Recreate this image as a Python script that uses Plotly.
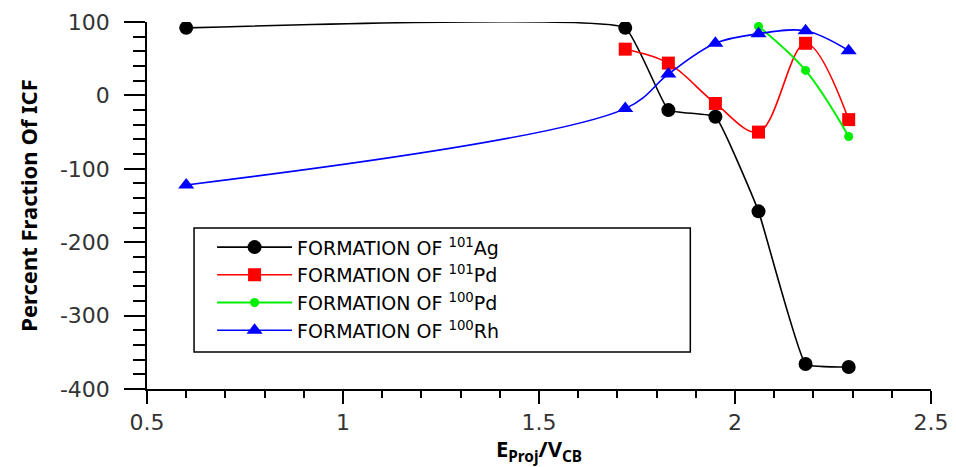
import plotly.graph_objects as go

# E_proj / V_CB values for each measured residue
x_ag101 = [0.60, 1.72, 1.83, 1.95, 2.06, 2.18, 2.29]
y_ag101 = [92, 92, -20, -29, -158, -366, -370]

x_pd101 = [1.72, 1.83, 1.95, 2.06, 2.18, 2.29]
y_pd101 = [63, 44, -11, -50, 71, -33]

x_pd100 = [2.06, 2.18, 2.29]
y_pd100 = [94, 34, -56]

x_rh100 = [0.60, 1.72, 1.83, 1.95, 2.06, 2.18, 2.29]
y_rh100 = [-122, -18, 29, 71, 84, 88, 61]

names = [
    "FORMATION OF <sup>101</sup>Ag",
    "FORMATION OF <sup>101</sup>Pd",
    "FORMATION OF <sup>100</sup>Pd",
    "FORMATION OF <sup>100</sup>Rh",
]

y_ticks = [-400, -300, -200, -100, 0, 100]
x_ticks = [0.5, 1, 1.5, 2, 2.5]

series = [
    (x_ag101, y_ag101, names[0], "#000000", "circle", 14, 1.6, 0.3),
    (x_pd101, y_pd101, names[1], "#ff0000", "square", 13, 1.6, 1.0),
    (x_pd100, y_pd100, names[2], "#00ee00", "circle", 9, 2.0, 1.0),
    (x_rh100, y_rh100, names[3], "#0000ff", "triangle-up", 14, 1.6, 1.0),
]

fig = go.Figure()
for xs, ys, name, color, symbol, msize, lw, smooth in series:
    fig.add_trace(go.Scatter(
        x=xs, y=ys, name=name, mode="lines+markers",
        line=dict(color=color, width=lw, shape="spline", smoothing=smooth),
        marker=dict(symbol=symbol, size=msize, color=color),
    ))

tick_font = dict(family="DejaVu Sans", size=22, color="#333333")
title_font = dict(family="Noto Sans", size=22, color="#000000", weight="bold")

# frame drawn around the legend entries
fig.add_shape(
    type="rect", xref="paper", yref="paper",
    x0=0.06, x1=0.693, y0=0.101, y1=0.439,
    line=dict(color="#000000", width=1.5), fillcolor="white", layer="below",
)

fig.update_layout(
    template="none",
    width=956, height=467,
    margin=dict(l=147, r=25, t=22, b=78),
    paper_bgcolor="white", plot_bgcolor="white",
    showlegend=True,
    legend=dict(
        x=0.083, y=0.438, xanchor="left", yanchor="top",
        bgcolor="rgba(0,0,0,0)", borderwidth=0,
        font=dict(family="DejaVu Sans", size=19, color="#000000"),
        itemwidth=75, tracegroupgap=0,
    ),
)

fig.update_xaxes(
    range=[0.5, 2.5], tickvals=x_ticks, ticktext=[str(v) for v in x_ticks],
    showline=True, linecolor="#000000", linewidth=1.5,
    ticks="outside", ticklen=13, tickwidth=1.5, tickcolor="#000000",
    minor=dict(dtick=0.1, ticks="outside", ticklen=7, tickwidth=1.5, tickcolor="#000000"),
    showgrid=False, zeroline=False, tickfont=tick_font, automargin=False,
    title=dict(text="E<sub>Proj</sub>/V<sub>CB</sub>", font=title_font, standoff=4),
)
fig.update_yaxes(
    range=[-400, 100], tickvals=y_ticks, ticktext=[str(v) for v in y_ticks],
    showline=True, linecolor="#000000", linewidth=1.5,
    ticks="outside", ticklen=21, tickwidth=1.5, tickcolor="#000000",
    minor=dict(dtick=20, ticks="outside", ticklen=12, tickwidth=1.5, tickcolor="#000000"),
    showgrid=False, zeroline=False, tickfont=tick_font, automargin=False,
    ticklabelstandoff=10,
    title=dict(text="Percent Fraction Of ICF", font=title_font, standoff=16),
)

fig.write_html("out.html")
